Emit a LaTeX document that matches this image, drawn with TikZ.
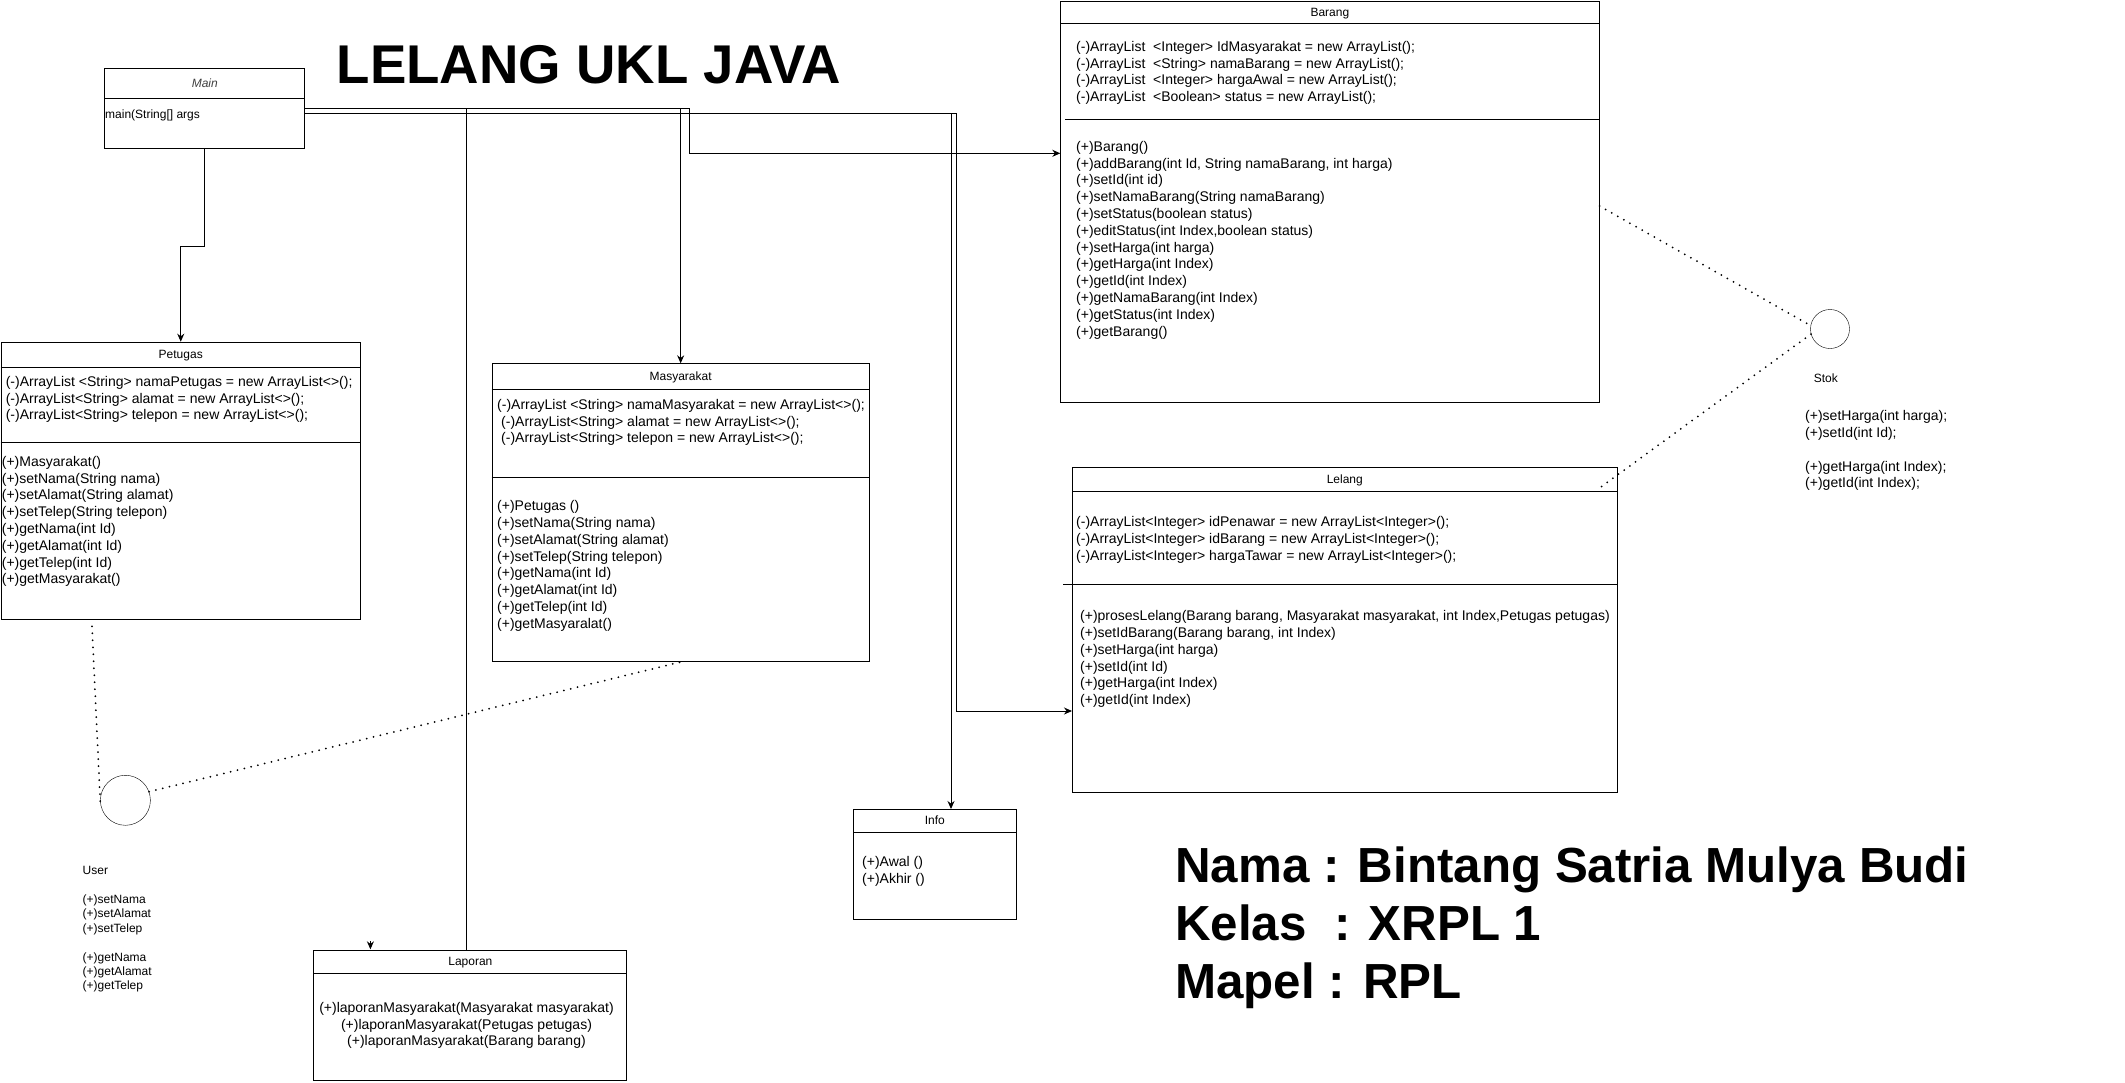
\documentclass[tikz,border=0pt]{standalone}
\usepackage{fontspec}
\setmainfont{Liberation Sans}
\usetikzlibrary{arrows.meta,calc}
\pgfdeclarelayer{back}
\pgfdeclarelayer{bg}
\pgfsetlayers{back,bg,main}
\begin{document}
\begin{tikzpicture}[x=1pt,y=-1pt,line width=1pt,
  classbox/.style={draw,fill=white,inner sep=0,anchor=north west,line width=1pt},
  ttl/.style={inner sep=0,anchor=base,font=\fontsize{12}{14.4}\selectfont},
  txt/.style={inner sep=0,anchor=north west,align=left,font=\fontsize{14}{16.8}\selectfont},
  stxt/.style={inner sep=0,anchor=north west,align=left,font=\fontsize{12}{14.4}\selectfont},
  conn/.style={line width=1pt},
  arr/.style={conn,-{Stealth[length=8pt,width=7pt]}},
  dotline/.style={line width=2pt,line cap=round,dash pattern=on 0pt off 7pt},
  bigtext/.style={inner sep=0,font=\bfseries\fontsize{49.3}{57.7}\selectfont}]

\begin{pgfonlayer}{back}
\fill[white] (0,0) rectangle (2125,1082);
\end{pgfonlayer}
\useasboundingbox (0,0) rectangle (2125,1082);

% ---------- Title ----------
\node[inner sep=0,anchor=base west,font=\bfseries\fontsize{54.6}{64}\selectfont] (title) at (336.5,83) {LELANG UKL JAVA};

% ---------- Main ----------
\node[classbox,minimum width=200,minimum height=80] (main) at (104.3,68.3) {};
\draw ($(main.north west)+(0,29.7)$) -- ($(main.north east)+(0,29.7)$);
\node[ttl,font=\itshape\fontsize{12}{14.4}\selectfont,text=black!75] (mainT) at ($(main.north)+(0,19)$) {Main};
\node[stxt] (mainM) at (105,108.1) {\strut main(String[] args};

% ---------- Barang ----------
\node[classbox,minimum width=538.2,minimum height=401.3] (barang) at (1060.3,1) {};
\draw ($(barang.north west)+(0,22.3)$) -- ($(barang.north east)+(0,22.3)$);
\draw ($(barang.north west)+(5,118)$) -- ($(barang.north east)+(0,118)$);
\node[ttl] (barangT) at ($(barang.north)+(0,15.3)$) {Barang};
\node[txt] (barangA) at (1076,39.4) {\strut(-)ArrayList\ \ <Integer> IdMasyarakat = new ArrayList();\\
(-)ArrayList\ \ <String> namaBarang = new ArrayList();\\
(-)ArrayList\ \ <Integer> hargaAwal = new ArrayList();\\
(-)ArrayList\ \ <Boolean> status = new ArrayList();};
\node[txt] (barangM) at (1076,139.4) {\strut(+)Barang()\\
(+)addBarang(int Id, String namaBarang, int harga)\\
(+)setId(int id)\\
(+)setNamaBarang(String namaBarang)\\
(+)setStatus(boolean status)\\
(+)editStatus(int Index,boolean status)\\
(+)setHarga(int harga)\\
(+)getHarga(int Index)\\
(+)getId(int Index)\\
(+)getNamaBarang(int Index)\\
(+)getStatus(int Index)\\
(+)getBarang()};

% ---------- Petugas ----------
\node[classbox,minimum width=359.5,minimum height=277.6] (petugas) at (0.5,341.7) {};
\draw ($(petugas.north west)+(0,25.6)$) -- ($(petugas.north east)+(0,25.6)$);
\draw ($(petugas.north west)+(0,100.6)$) -- ($(petugas.north east)+(0,100.6)$);
\node[ttl] (petugasT) at ($(petugas.north)+(0,16.8)$) {Petugas};
\node[txt] (petugasA) at (5.6,374.4) {\strut(-)ArrayList <String> namaPetugas = new ArrayList<>();\\
(-)ArrayList<String> alamat = new ArrayList<>();\\
(-)ArrayList<String> telepon = new ArrayList<>();};
\node[txt] (petugasM) at (1.7,454.4) {\strut(+)Masyarakat()\\
(+)setNama(String nama)\\
(+)setAlamat(String alamat)\\
(+)setTelep(String telepon)\\
(+)getNama(int Id)\\
(+)getAlamat(int Id)\\
(+)getTelep(int Id)\\
(+)getMasyarakat()};

% ---------- Masyarakat ----------
\node[classbox,minimum width=377.1,minimum height=297.7] (masyarakat) at (491.6,363.3) {};
\draw ($(masyarakat.north west)+(0,26)$) -- ($(masyarakat.north east)+(0,26)$);
\draw ($(masyarakat.north west)+(0,113.7)$) -- ($(masyarakat.north east)+(0,113.7)$);
\node[ttl] (masyarakatT) at ($(masyarakat.north)+(0,17)$) {Masyarakat};
\node[txt] (masyarakatA) at (497,397.4) {\strut(-)ArrayList <String> namaMasyarakat = new ArrayList<>();\\
\hspace*{4pt}(-)ArrayList<String> alamat = new ArrayList<>();\\
\hspace*{4pt}(-)ArrayList<String> telepon = new ArrayList<>();};
\node[txt] (masyarakatM) at (497,498.7) {\strut(+)Petugas ()\\
(+)setNama(String nama)\\
(+)setAlamat(String alamat)\\
(+)setTelep(String telepon)\\
(+)getNama(int Id)\\
(+)getAlamat(int Id)\\
(+)getTelep(int Id)\\
(+)getMasyaralat()};

% ---------- Lelang ----------
\node[classbox,minimum width=544.5,minimum height=325] (lelang) at (1072,467) {};
\draw ($(lelang.north west)+(0,24)$) -- ($(lelang.north east)+(0,24)$);
\draw ($(lelang.north west)+(-9,117)$) -- ($(lelang.north east)+(0,117)$);
\node[ttl] (lelangT) at ($(lelang.north)+(0,16)$) {Lelang};
\node[txt] (lelangA) at (1076,514.7) {\strut(-)ArrayList<Integer> idPenawar = new ArrayList<Integer>();\\
(-)ArrayList<Integer> idBarang = new ArrayList<Integer>();\\
(-)ArrayList<Integer> hargaTawar = new ArrayList<Integer>();};
\node[txt] (lelangM) at (1080,608.7) {\strut(+)prosesLelang(Barang barang, Masyarakat masyarakat, int Index,Petugas petugas)\\
(+)setIdBarang(Barang barang, int Index)\\
(+)setHarga(int harga)\\
(+)setId(int Id)\\
(+)getHarga(int Index)\\
(+)getId(int Index)};

% ---------- Info ----------
\node[classbox,minimum width=162.5,minimum height=110] (info) at (853,809) {};
\draw ($(info.north west)+(0,23)$) -- ($(info.north east)+(0,23)$);
\node[ttl] (infoT) at ($(info.north)+(0,15.5)$) {Info};
\node[txt] (infoM) at (862,854.7) {\strut(+)Awal ()\\(+)Akhir ()};

% ---------- Laporan ----------
\node[classbox,minimum width=312.9,minimum height=130] (laporan) at (313.4,950.3) {};
\draw ($(laporan.north west)+(0,23)$) -- ($(laporan.north east)+(0,23)$);
\node[ttl] (laporanT) at ($(laporan.north)+(0,15.5)$) {Laporan};
\node[txt,anchor=north,align=center] (laporanM) at (466.5,1000.4) {\strut(+)laporanMasyarakat(Masyarakat masyarakat)\\
(+)laporanMasyarakat(Petugas petugas)\\
(+)laporanMasyarakat(Barang barang)};

% ---------- User interface ----------
\node[circle,draw,fill=white,minimum size=50,inner sep=0] (user) at (125.4,800.3) {};
\node[stxt] (userT) at (82.5,864.5) {\strut User\\ \strut\\(+)setNama\\(+)setAlamat\\(+)setTelep\\ \strut\\(+)getNama\\(+)getAlamat\\(+)getTelep};

% ---------- Stok interface ----------
\node[circle,draw,fill=white,minimum size=39,inner sep=0] (stok) at (1830,329) {};
\node[stxt] (stokT) at (1813.6,371.8) {\strut Stok};
\node[txt] (stokM) at (1805,408.7) {\strut(+)setHarga(int harga);\\(+)setId(int Id);\\ \strut\\(+)getHarga(int Index);\\(+)getId(int Index);};

% ---------- Identity ----------
\node[bigtext,anchor=north west,align=left] (ident) at (1175,842.3) {\strut Nama : Bintang Satria Mulya Budi\\Kelas\ \ : XRPL 1\\Mapel : RPL};

% ---------- Connectors ----------
\coordinate (mUp) at ($(main.north east)+(0,40.2)$);
\coordinate (mLo) at ($(main.north east)+(0,44.9)$);
\coordinate (lapX) at (466.5,0);
\coordinate (barX) at (689.5,0);
\coordinate (infX) at (951,0);
\coordinate (lelX) at (956,0);
\coordinate (barIn) at ($(barang.north west)+(0,152.3)$);
\coordinate (lelIn) at ($(lelang.north west)+(0,244)$);
\coordinate (lapTip) at ($(laporan.north west)+(57,-1)$);

\begin{pgfonlayer}{bg}
\draw[arr] (main.south) -- ++(0,97) -| (petugas.north);
\draw[conn] (mUp) -| (lapX |- laporan.north);
\draw[arr] (mUp) -| (barX |- barIn) -- (barIn);
\draw[arr] (mUp) -| (masyarakat.north);
\draw[arr] (mLo) -| (infX |- info.north);
\draw[arr] (mLo) -| (lelX |- lelIn) -- (lelIn);
\end{pgfonlayer}
\draw[arr] ($(lapTip)+(0,-8)$) -- (lapTip);

\draw[dotline] ($(petugas.south west)+(91.5,6)$) -- (user.185);
\draw[dotline] (user.20) -- (masyarakat.south);
\draw[dotline] ($(barang.north east)+(0,205)$) -- (stok.170);
\draw[dotline] (stok.195) -- ($(lelang.north east)+(-18,21)$);
\end{tikzpicture}
\end{document}
